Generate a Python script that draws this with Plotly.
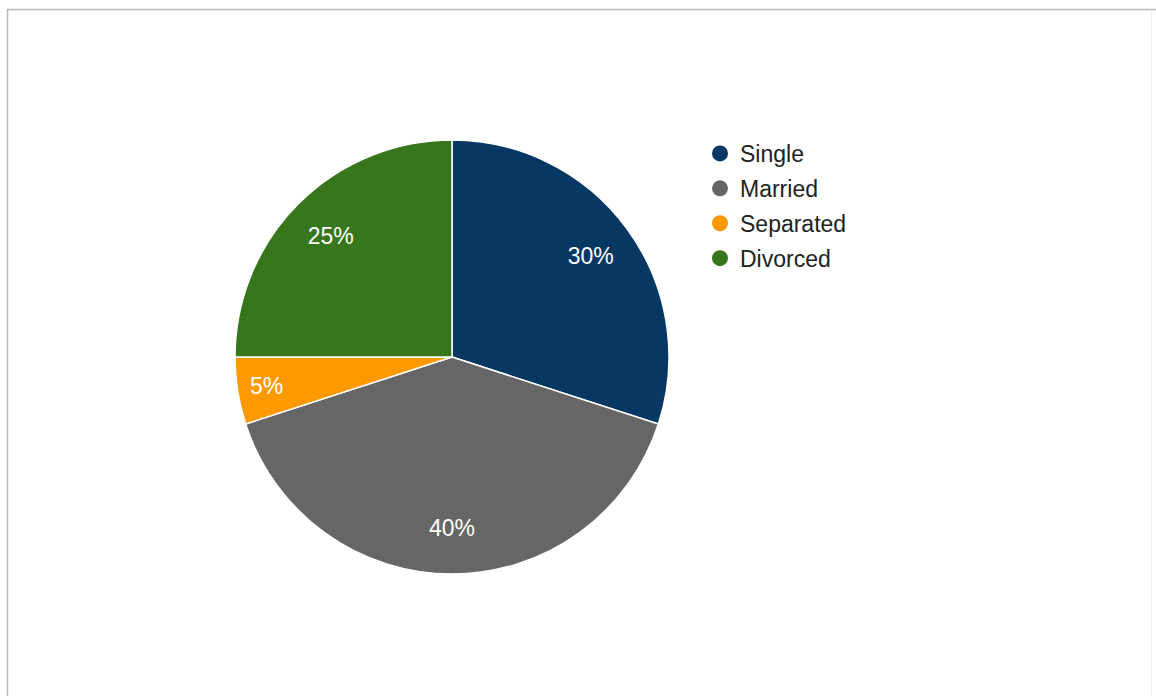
import plotly.graph_objects as go

labels = ["Single", "Married", "Separated", "Divorced"]
values = [30, 40, 5, 25]
colors = ["#073763", "#666666", "#ff9900", "#38761d"]

W, H = 1156, 696
FONT = "Arial, Liberation Sans, sans-serif"

def px_x(v):
    return v / W

def px_y(v):
    return 1 - v / H

domain = dict(x=[px_x(234), px_x(670)], y=[px_y(574), px_y(140)])

fig = go.Figure()

# Solid pie (slices)
fig.add_trace(go.Pie(
    labels=labels,
    values=values,
    sort=False,
    direction="clockwise",
    rotation=0,
    marker=dict(colors=colors, line=dict(color="white", width=1.5)),
    textinfo="none",
    showlegend=False,
    hoverinfo="label+percent",
    domain=domain,
))

# Transparent ring used only to place percentage labels in the outer part of slices
fig.add_trace(go.Pie(
    labels=labels,
    values=values,
    sort=False,
    direction="clockwise",
    rotation=0,
    hole=0.58,
    marker=dict(colors=["rgba(0,0,0,0)"] * len(labels), line=dict(width=0)),
    textinfo="percent",
    texttemplate="%{percent:.0%}",
    textposition="inside",
    insidetextorientation="horizontal",
    textfont=dict(family=FONT, size=23, color="white"),
    showlegend=False,
    hoverinfo="skip",
    domain=domain,
))

for lab, col in zip(labels, colors):
    fig.add_trace(go.Scatter(
        x=[None], y=[None], mode="markers", name=lab,
        marker=dict(color=col, size=16, symbol="circle"),
        legendgroup=lab, showlegend=True,
    ))

fig.update_layout(
    width=W, height=H,
    margin=dict(l=0, r=0, t=0, b=0),
    paper_bgcolor="white",
    plot_bgcolor="white",
    xaxis=dict(visible=False),
    yaxis=dict(visible=False),
    legend=dict(
        x=px_x(700), y=px_y(132), xanchor="left", yanchor="top",
        font=dict(family=FONT, size=23, color="#222222"),
        tracegroupgap=2,
        itemsizing="trace",
        bgcolor="rgba(0,0,0,0)",
    ),
    shapes=[
        dict(type="line", xref="paper", yref="paper",
             x0=px_x(7), x1=1, y0=px_y(9.5), y1=px_y(9.5),
             line=dict(color="#b8b8b8", width=1.5)),
        dict(type="line", xref="paper", yref="paper",
             x0=px_x(7.5), x1=px_x(7.5), y0=px_y(9), y1=0,
             line=dict(color="#b8b8b8", width=1.5)),
        dict(type="line", xref="paper", yref="paper",
             x0=px_x(1151.5), x1=px_x(1151.5), y0=px_y(10), y1=0,
             line=dict(color="#eeeeee", width=1)),
    ],
)

fig.write_html("out.html")
